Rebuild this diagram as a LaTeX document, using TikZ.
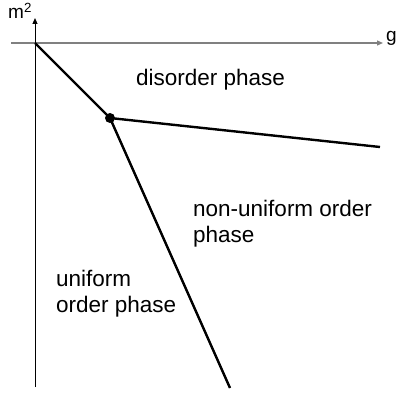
\documentclass[tikz,border=0pt]{standalone}
\usepackage{fontspec}
\setmainfont{Liberation Sans}
\usetikzlibrary{arrows.meta}
\tikzset{
  axisg/.style={draw=black!50, line width=1.3pt, -{Triangle[length=6pt,width=5pt]}},
  axisb/.style={draw=black, line width=1pt, -{Triangle[length=6pt,width=5pt]}},
  phaseline/.style={draw=black, line width=2.4pt},
  lbl/.style={inner sep=0pt, anchor=base west, font=\fontsize{22.5}{25.5}\selectfont, align=left},
  axlbl/.style={inner sep=0pt, anchor=base west, font=\fontsize{19}{22}\selectfont},
  dotnode/.style={circle, fill=black, inner sep=0pt, minimum size=10pt}
}
\begin{document}
\begin{tikzpicture}[x=1pt,y=-1pt]
\useasboundingbox (0,0) rectangle (396,396);
\coordinate (hs) at (11,43);
\coordinate (he) at (383,43);
\coordinate (vs) at (35,387);
\coordinate (ve) at (35,18);
\coordinate (o) at (35,43);
\coordinate (r) at (380,147);
\coordinate (b) at (230,388);
\node[dotnode] (dot) at (110,118) {};
\draw[axisg] (hs) -- (he);
\draw[axisb] (vs) -- (ve);
\draw[phaseline] (o) -- (dot.center);
\draw[phaseline] (dot.center) -- (r);
\draw[phaseline] (dot.center) -- (b);
\node[axlbl] (mlab) at (8,19) {m\textsuperscript{2}};
\node[axlbl] (glab) at (386,42) {g};
\node[lbl] (dis) at (136,85) {disorder phase};
\node[lbl] (non) at (193,242) {non-uniform order\\phase};
\node[lbl] (uni) at (56,312) {uniform\\order phase};
\end{tikzpicture}
\end{document}
